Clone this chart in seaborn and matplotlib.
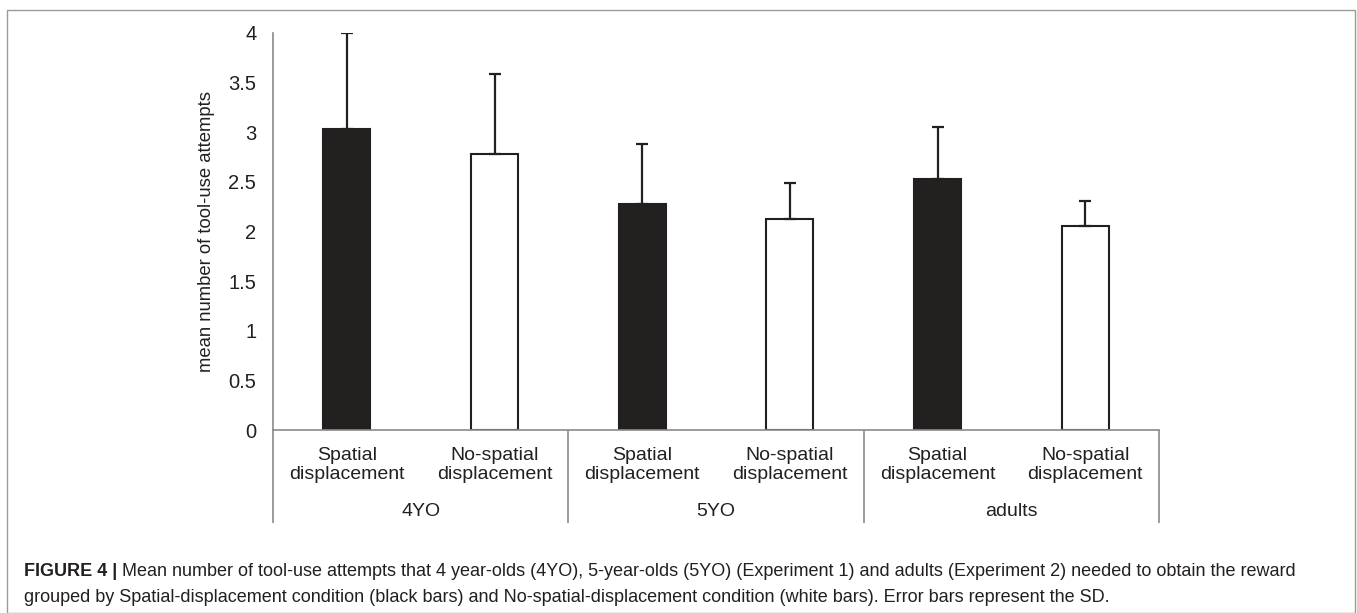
import numpy as np
import pandas as pd
import matplotlib as mpl
import matplotlib.pyplot as plt
import seaborn as sns
from matplotlib.patches import Rectangle

# DATA
groups = ['4YO', '5YO', 'adults']
conditions = ['Spatial\ndisplacement', 'No-spatial\ndisplacement']
cond_keys = ['Spatial', 'No-spatial']
means = [3.03, 2.78, 2.28, 2.13, 2.53, 2.06]
sds = [0.97, 0.81, 0.60, 0.36, 0.52, 0.25]
yticks = [0, 0.5, 1, 1.5, 2, 2.5, 3, 3.5, 4]
ytick_labels = ['0', '0.5', '1', '1.5', '2', '2.5', '3', '3.5', '4']

df = pd.DataFrame({
    'group': np.repeat(groups, len(cond_keys)),
    'condition': cond_keys * len(groups),
    'mean': means,
    'sd': sds,
})
df['bar'] = df['group'] + ' ' + df['condition']

# STYLE
sns.set_style('white')
plt.rcParams['font.family'] = ['Liberation Sans', 'DejaVu Sans']
ink = '#231f20'
axis_grey = '#8a8a8a'

W, H = 1357, 613
fig = plt.figure(figsize=(W / 100, H / 100), dpi=100)
ax_left, ax_right, ax_top, ax_bottom = 273, 1159, 33, 430
ax = fig.add_axes([ax_left / W, 1 - ax_bottom / H,
                   (ax_right - ax_left) / W, (ax_bottom - ax_top) / H])

sns.barplot(data=df, x='bar', y='mean', hue='condition',
            palette={'Spatial': ink, 'No-spatial': 'white'},
            order=list(df['bar']), dodge=False, width=0.32,
            edgecolor=ink, linewidth=1.5, errorbar=None, legend=False, ax=ax)

# upper-only SD error bars
xpos = np.arange(len(df))
ax.errorbar(xpos, df['mean'], yerr=[np.zeros(len(df)), df['sd']],
            fmt='none', ecolor=ink, elinewidth=1.6, capsize=4.5, capthick=1.6,
            zorder=5)

ax.set_xlim(-0.5, len(df) - 0.5)
ax.set_ylim(0, 4)
ax.set_yticks(yticks)
ax.set_yticklabels(ytick_labels, fontsize=14.5, color=ink)
ax.tick_params(axis='y', length=0, pad=12)
ax.set_xticks([])
ax.set_xlabel('')
ax.set_ylabel('mean number of tool-use attempts', fontsize=13.3, color=ink)
ax.yaxis.set_label_coords((215 - ax_left) / (ax_right - ax_left), 0.5)

for s in ['top', 'right']:
    ax.spines[s].set_visible(False)
for s in ['left', 'bottom']:
    ax.spines[s].set_color(axis_grey)
    ax.spines[s].set_linewidth(1.2)

# multi-level category axis
ax_h = ax_bottom - ax_top
drop = -(523 - ax_bottom) / ax_h
trans = mpl.transforms.blended_transform_factory(ax.transData, ax.transAxes)
for b in [-0.5, 1.5, 3.5, 5.5]:
    ax.plot([b, b], [0, drop], transform=trans, color=axis_grey, lw=1.2,
            clip_on=False, solid_capstyle='butt')

for i in range(len(df)):
    ax.text(i, -(465 - ax_bottom) / ax_h, conditions[i % 2], transform=trans,
            ha='center', va='center', fontsize=14, color=ink, linespacing=1.15)
for g, name in enumerate(groups):
    ax.text(2 * g + 0.5, -(511 - ax_bottom) / ax_h, name, transform=trans,
            ha='center', va='center', fontsize=14, color=ink)

# figure frame and caption
fig.patches.append(Rectangle((7 / W, 0.5 / H), (1355 - 7) / W, (612 - 9) / H,
                             transform=fig.transFigure, fill=False,
                             edgecolor='#9a9a9a', lw=1.0))
t1 = fig.text(24 / W, 1 - 571 / H, 'FIGURE 4 |', fontsize=13, fontweight='bold',
              color=ink, va='center')
ax.annotate(' Mean number of tool-use attempts that 4 year-olds (4YO), 5-year-olds (5YO) '
            '(Experiment 1) and adults (Experiment 2) needed to obtain the reward',
            xy=(1, 0.5), xycoords=t1, va='center', ha='left', fontsize=13, color=ink,
            annotation_clip=False)
fig.text(24 / W, 1 - 597 / H,
         'grouped by Spatial-displacement condition (black bars) and No-spatial-displacement '
         'condition (white bars). Error bars represent the SD.',
         fontsize=13, color=ink, va='center')

plt.savefig('out.png', dpi=100)
plt.close()
